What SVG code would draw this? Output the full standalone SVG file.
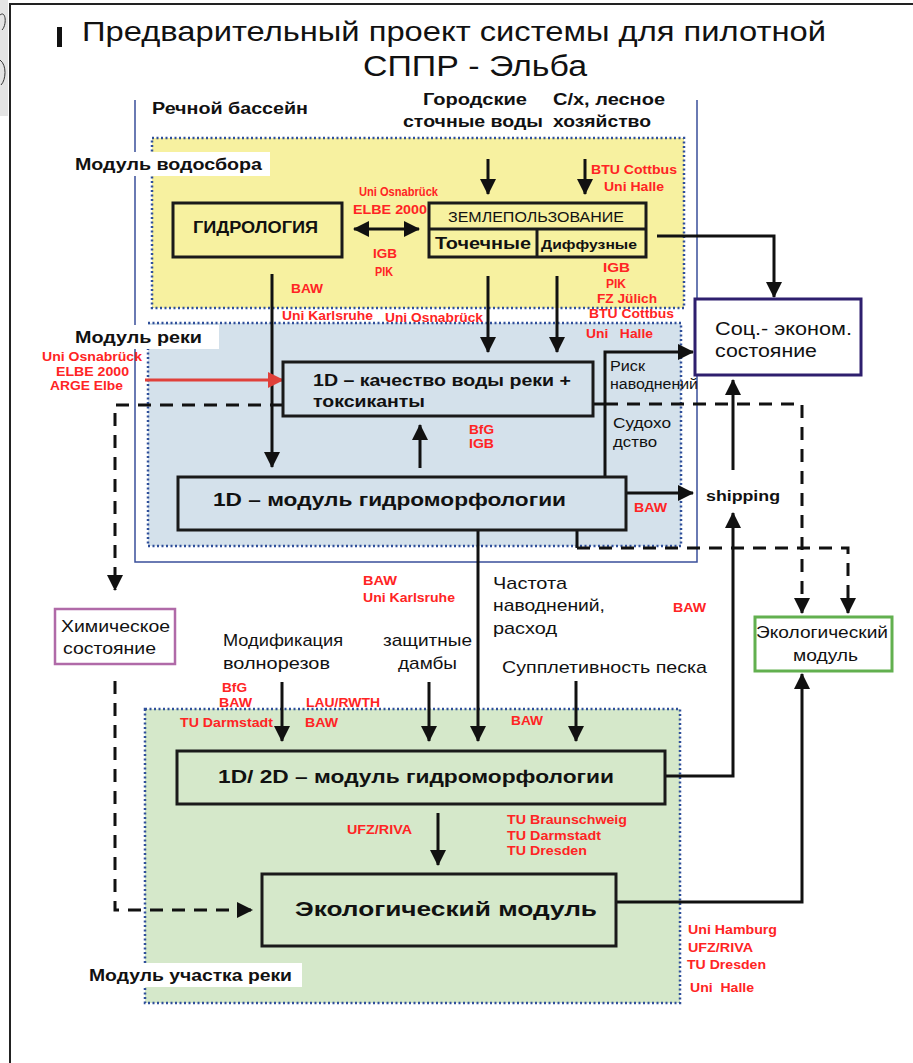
<svg xmlns="http://www.w3.org/2000/svg" width="913" height="1063" viewBox="0 0 913 1063">
<defs>
<style>
.t{font-family:"Liberation Sans",Arial,sans-serif;fill:#111}
.b{font-weight:bold}
.r{font-family:"Liberation Sans",Arial,sans-serif;font-weight:bold;font-size:12px;fill:#ff2424}
.box{fill:none;stroke:#1a1a1a;stroke-width:3}
.ln{fill:none;stroke:#111;stroke-width:3}
.dash{fill:none;stroke:#111;stroke-width:3;stroke-dasharray:13 9}
.mod{stroke:#2f4f9a;stroke-width:2.5;stroke-dasharray:2 2.5}
</style>
<marker id="ah" markerUnits="userSpaceOnUse" markerWidth="16" markerHeight="16" refX="15" refY="8" orient="auto-start-reverse" viewBox="0 0 16 16"><path d="M0,0 L16,8 L0,16 z" fill="#111"/></marker>
<marker id="ahr" markerUnits="userSpaceOnUse" markerWidth="16" markerHeight="16" refX="15" refY="8" orient="auto" viewBox="0 0 16 16"><path d="M0,0 L16,8 L0,16 z" fill="#e0403a"/></marker>
</defs>
<rect x="0" y="0" width="913" height="1063" fill="#fff"/>
<rect x="0" y="0" width="8" height="116" fill="#e4e4e4"/>
<path d="M0,15 C6,10 7,25 2,30 M0,60 C7,65 6,80 1,85" fill="none" stroke="#333" stroke-width="1"/>
<path d="M10,1063 V4 H913" fill="none" stroke="#222" stroke-width="2"/>
<rect x="57" y="27" width="5" height="20" fill="#111"/>
<text class="t" x="454" y="41" font-size="28" text-anchor="middle" textLength="744" lengthAdjust="spacingAndGlyphs">Предварительный проект системы для пилотной</text>
<text class="t" x="363" y="76" font-size="29" textLength="224" lengthAdjust="spacingAndGlyphs">СППР - Эльба</text>

<g id="basin">
<path d="M135,100 V562 H697 V100" fill="none" stroke="#3a4f9a" stroke-width="1.5"/>
<text class="t b" x="152" y="114" font-size="16" textLength="156" lengthAdjust="spacingAndGlyphs">Речной бассейн</text>
</g>

<g id="catchment-module">
<rect x="152" y="138" width="532" height="170" fill="#f7f1a0" class="mod"/>
<rect x="72" y="152" width="198" height="24" fill="#fff"/>
<text class="t b" x="75" y="170" font-size="16" textLength="187" lengthAdjust="spacingAndGlyphs">Модуль водосбора</text>
</g>

<g id="river-module">
<rect x="148" y="323" width="533" height="223" fill="#d4e1eb" class="mod"/>
<rect x="71" y="325" width="148" height="24" fill="#fff"/>
<text class="t b" x="75" y="343" font-size="16" textLength="127" lengthAdjust="spacingAndGlyphs">Модуль реки</text>
</g>

<g id="reach-module">
<rect x="145" y="709" width="535" height="294" fill="#d5e8ca" class="mod"/>
<rect x="85" y="963" width="217" height="24" fill="#fff"/>
<text class="t b" x="89" y="981" font-size="16" textLength="203" lengthAdjust="spacingAndGlyphs">Модуль участка реки</text>
</g>

<g id="connectors">
<line x1="488" y1="159" x2="488" y2="194" class="ln" marker-end="url(#ah)"/>
<line x1="585" y1="159" x2="585" y2="194" class="ln" marker-end="url(#ah)"/>
<line x1="354" y1="229" x2="419" y2="229" class="ln" marker-start="url(#ah)" marker-end="url(#ah)"/>
<path d="M657,236 H774 V297" class="ln" marker-end="url(#ah)"/>
<line x1="272" y1="274" x2="272" y2="467" class="ln" marker-end="url(#ah)"/>
<line x1="488" y1="276" x2="488" y2="352" class="ln" marker-end="url(#ah)"/>
<line x1="557" y1="276" x2="557" y2="352" class="ln" marker-end="url(#ah)"/>
<line x1="145" y1="380" x2="283" y2="380" stroke="#e0403a" stroke-width="3" marker-end="url(#ahr)"/>
<line x1="420" y1="468" x2="420" y2="425" class="ln" marker-end="url(#ah)"/>
<line x1="593" y1="404" x2="605" y2="404" class="ln"/>
<path d="M605,477 V352 H693" class="ln" marker-end="url(#ah)"/>
<line x1="626" y1="493" x2="693" y2="493" class="ln" marker-end="url(#ah)"/>
<line x1="733" y1="470" x2="733" y2="380" class="ln" marker-end="url(#ah)"/>
<path d="M665,776 H733 V513" class="ln" marker-end="url(#ah)"/>
<path d="M283,405 H115 V590" class="dash" marker-end="url(#ah)"/>
<path d="M605,404 H802 V613" class="dash" marker-end="url(#ah)"/>
<path d="M577,530 V548" class="ln"/>
<path d="M577,548 H848 V613" class="dash" marker-end="url(#ah)"/>
<path d="M115,681 V910 H252" class="dash" marker-end="url(#ah)"/>
<line x1="478" y1="530" x2="478" y2="741" class="ln" marker-end="url(#ah)"/>
<line x1="282" y1="682" x2="282" y2="741" class="ln" marker-end="url(#ah)"/>
<line x1="429" y1="682" x2="429" y2="741" class="ln" marker-end="url(#ah)"/>
<line x1="576" y1="681" x2="576" y2="741" class="ln" marker-end="url(#ah)"/>
<line x1="438" y1="813" x2="438" y2="865" class="ln" marker-end="url(#ah)"/>
<path d="M616,902 H802 V674" class="ln" marker-end="url(#ah)"/>
</g>

<g id="sources">
<text class="t b" x="423" y="105" font-size="16" textLength="104" lengthAdjust="spacingAndGlyphs">Городские</text>
<text class="t b" x="403" y="127" font-size="16" textLength="140" lengthAdjust="spacingAndGlyphs">сточные воды</text>
<text class="t b" x="553" y="105" font-size="16" textLength="112" lengthAdjust="spacingAndGlyphs">С/х, лесное</text>
<text class="t b" x="553" y="127" font-size="16" textLength="98" lengthAdjust="spacingAndGlyphs">хозяйство</text>
</g>

<g id="hydrology">
<rect x="173" y="203" width="169" height="54" class="box"/>
<text class="t b" x="193" y="233" font-size="16" textLength="125" lengthAdjust="spacingAndGlyphs">ГИДРОЛОГИЯ</text>
</g>

<g id="landuse">
<rect x="429" y="203" width="217" height="54" class="box"/>
<line x1="429" y1="229" x2="646" y2="229" stroke="#1a1a1a" stroke-width="3"/>
<line x1="537" y1="229" x2="537" y2="257" stroke="#1a1a1a" stroke-width="3"/>
<text class="t" x="448" y="222" font-size="14" textLength="176" lengthAdjust="spacingAndGlyphs">ЗЕМЛЕПОЛЬЗОВАНИЕ</text>
<text class="t b" x="435" y="249" font-size="16" textLength="96" lengthAdjust="spacingAndGlyphs">Точечные</text>
<text class="t b" x="541" y="249" font-size="13" textLength="96" lengthAdjust="spacingAndGlyphs">Диффузные</text>
</g>

<g id="socio">
<rect x="695" y="299" width="166" height="76" fill="#fff" stroke="#2e1f6e" stroke-width="3"/>
<text class="t" x="715" y="335" font-size="18" textLength="137" lengthAdjust="spacingAndGlyphs">Соц.- эконом.</text>
<text class="t" x="715" y="357" font-size="18" textLength="102" lengthAdjust="spacingAndGlyphs">состояние</text>
</g>

<g id="quality">
<rect x="283" y="362" width="310" height="54" class="box"/>
<text class="t b" x="313" y="386" font-size="17" textLength="258" lengthAdjust="spacingAndGlyphs">1D – качество воды реки +</text>
<text class="t b" x="313" y="407" font-size="17" textLength="112" lengthAdjust="spacingAndGlyphs">токсиканты</text>
</g>

<g id="morph1d">
<rect x="178" y="477" width="448" height="53" class="box"/>
<text class="t b" x="213" y="506" font-size="19" textLength="353" lengthAdjust="spacingAndGlyphs">1D – модуль гидроморфологии</text>
</g>

<g id="labels-river">
<text class="t" x="610" y="371" font-size="14" textLength="35" lengthAdjust="spacingAndGlyphs">Риск</text>
<text class="t" x="610" y="389" font-size="14" textLength="88" lengthAdjust="spacingAndGlyphs">наводнений</text>
<text class="t" x="613" y="428" font-size="14" textLength="58" lengthAdjust="spacingAndGlyphs">Судохо</text>
<text class="t" x="613" y="447" font-size="14" textLength="44" lengthAdjust="spacingAndGlyphs">дство</text>
<text class="t b" x="706" y="501" font-size="14" textLength="74" lengthAdjust="spacingAndGlyphs">shipping</text>
</g>

<g id="chem">
<rect x="55" y="609" width="120" height="55" fill="#fff" stroke="#b06aa8" stroke-width="2.5"/>
<text class="t" x="61" y="632" font-size="16" textLength="109" lengthAdjust="spacingAndGlyphs">Химическое</text>
<text class="t" x="63" y="654" font-size="16" textLength="93" lengthAdjust="spacingAndGlyphs">состояние</text>
</g>

<g id="eco-right">
<rect x="755" y="617" width="137" height="54" fill="#fff" stroke="#62b04f" stroke-width="3"/>
<text class="t" x="756" y="638" font-size="16" textLength="132" lengthAdjust="spacingAndGlyphs">Экологический</text>
<text class="t" x="793" y="661" font-size="16" textLength="65" lengthAdjust="spacingAndGlyphs">модуль</text>
</g>

<g id="inputs-reach">
<text class="t" x="493" y="589" font-size="17" textLength="74" lengthAdjust="spacingAndGlyphs">Частота</text>
<text class="t" x="493" y="611" font-size="17" textLength="112" lengthAdjust="spacingAndGlyphs">наводнений,</text>
<text class="t" x="493" y="634" font-size="17" textLength="64" lengthAdjust="spacingAndGlyphs">расход</text>
<text class="t" x="223" y="646" font-size="17" textLength="120" lengthAdjust="spacingAndGlyphs">Модификация</text>
<text class="t" x="223" y="669" font-size="17" textLength="107" lengthAdjust="spacingAndGlyphs">волнорезов</text>
<text class="t" x="383" y="646" font-size="17" textLength="89" lengthAdjust="spacingAndGlyphs">защитные</text>
<text class="t" x="398" y="669" font-size="17" textLength="59" lengthAdjust="spacingAndGlyphs">дамбы</text>
<text class="t" x="502" y="673" font-size="17" textLength="205" lengthAdjust="spacingAndGlyphs">Супплетивность песка</text>
</g>

<g id="morph2d">
<rect x="177" y="751" width="488" height="53" class="box"/>
<text class="t b" x="218" y="783" font-size="19" textLength="396" lengthAdjust="spacingAndGlyphs">1D/ 2D – модуль гидроморфологии</text>
</g>

<g id="eco-main">
<rect x="262" y="874" width="354" height="72" class="box"/>
<text class="t b" x="295" y="916" font-size="21" textLength="302" lengthAdjust="spacingAndGlyphs">Экологический модуль</text>
</g>

<g id="partners">
<text class="r" x="591" y="174" textLength="86" lengthAdjust="spacingAndGlyphs">BTU Cottbus</text>
<text class="r" x="604" y="191" textLength="60" lengthAdjust="spacingAndGlyphs">Uni Halle</text>
<text class="r" x="359" y="196" textLength="79" lengthAdjust="spacingAndGlyphs">Uni Osnabrück</text>
<text class="r" x="353" y="214" textLength="74" lengthAdjust="spacingAndGlyphs">ELBE 2000</text>
<text class="r" x="373" y="258" textLength="24" lengthAdjust="spacingAndGlyphs">IGB</text>
<text class="r" x="375" y="276" textLength="18" lengthAdjust="spacingAndGlyphs">PIK</text>
<text class="r" x="291" y="293" textLength="32" lengthAdjust="spacingAndGlyphs">BAW</text>
<text class="r" x="282" y="320" textLength="91" lengthAdjust="spacingAndGlyphs">Uni Karlsruhe</text>
<text class="r" x="385" y="322" textLength="98" lengthAdjust="spacingAndGlyphs">Uni Osnabrück</text>
<text class="r" x="603" y="272" textLength="27" lengthAdjust="spacingAndGlyphs">IGB</text>
<text class="r" x="606" y="288" textLength="20" lengthAdjust="spacingAndGlyphs">PIK</text>
<text class="r" x="597" y="303" textLength="60" lengthAdjust="spacingAndGlyphs">FZ Jülich</text>
<text class="r" x="589" y="318" textLength="85" lengthAdjust="spacingAndGlyphs">BTU Cottbus</text>
<text class="r" x="586" y="338" textLength="67" lengthAdjust="spacingAndGlyphs" xml:space="preserve">Uni   Halle</text>
<text class="r" x="42" y="361" textLength="100" lengthAdjust="spacingAndGlyphs">Uni Osnabrück</text>
<text class="r" x="56" y="376" textLength="73" lengthAdjust="spacingAndGlyphs">ELBE 2000</text>
<text class="r" x="50" y="390" textLength="73" lengthAdjust="spacingAndGlyphs">ARGE Elbe</text>
<text class="r" x="469" y="434" textLength="25" lengthAdjust="spacingAndGlyphs">BfG</text>
<text class="r" x="469" y="448" textLength="25" lengthAdjust="spacingAndGlyphs">IGB</text>
<text class="r" x="634" y="512" textLength="33" lengthAdjust="spacingAndGlyphs">BAW</text>
<text class="r" x="363" y="585" textLength="34" lengthAdjust="spacingAndGlyphs">BAW</text>
<text class="r" x="363" y="602" textLength="92" lengthAdjust="spacingAndGlyphs">Uni Karlsruhe</text>
<text class="r" x="673" y="612" textLength="33" lengthAdjust="spacingAndGlyphs">BAW</text>
<text class="r" x="222" y="692" textLength="25" lengthAdjust="spacingAndGlyphs">BfG</text>
<text class="r" x="219" y="707" textLength="33" lengthAdjust="spacingAndGlyphs">BAW</text>
<text class="r" x="180" y="727" textLength="93" lengthAdjust="spacingAndGlyphs">TU Darmstadt</text>
<text class="r" x="306" y="707" textLength="74" lengthAdjust="spacingAndGlyphs">LAU/RWTH</text>
<text class="r" x="305" y="727" textLength="33" lengthAdjust="spacingAndGlyphs">BAW</text>
<text class="r" x="511" y="725" textLength="32" lengthAdjust="spacingAndGlyphs">BAW</text>
<text class="r" x="347" y="834" textLength="65" lengthAdjust="spacingAndGlyphs">UFZ/RIVA</text>
<text class="r" x="507" y="824" textLength="120" lengthAdjust="spacingAndGlyphs">TU Braunschweig</text>
<text class="r" x="507" y="840" textLength="94" lengthAdjust="spacingAndGlyphs">TU Darmstadt</text>
<text class="r" x="507" y="855" textLength="80" lengthAdjust="spacingAndGlyphs">TU Dresden</text>
<text class="r" x="688" y="934" textLength="89" lengthAdjust="spacingAndGlyphs">Uni Hamburg</text>
<text class="r" x="688" y="952" textLength="65" lengthAdjust="spacingAndGlyphs">UFZ/RIVA</text>
<text class="r" x="687" y="969" textLength="79" lengthAdjust="spacingAndGlyphs">TU Dresden</text>
<text class="r" x="690" y="992" textLength="64" lengthAdjust="spacingAndGlyphs" xml:space="preserve">Uni  Halle</text>
</g>
</svg>
